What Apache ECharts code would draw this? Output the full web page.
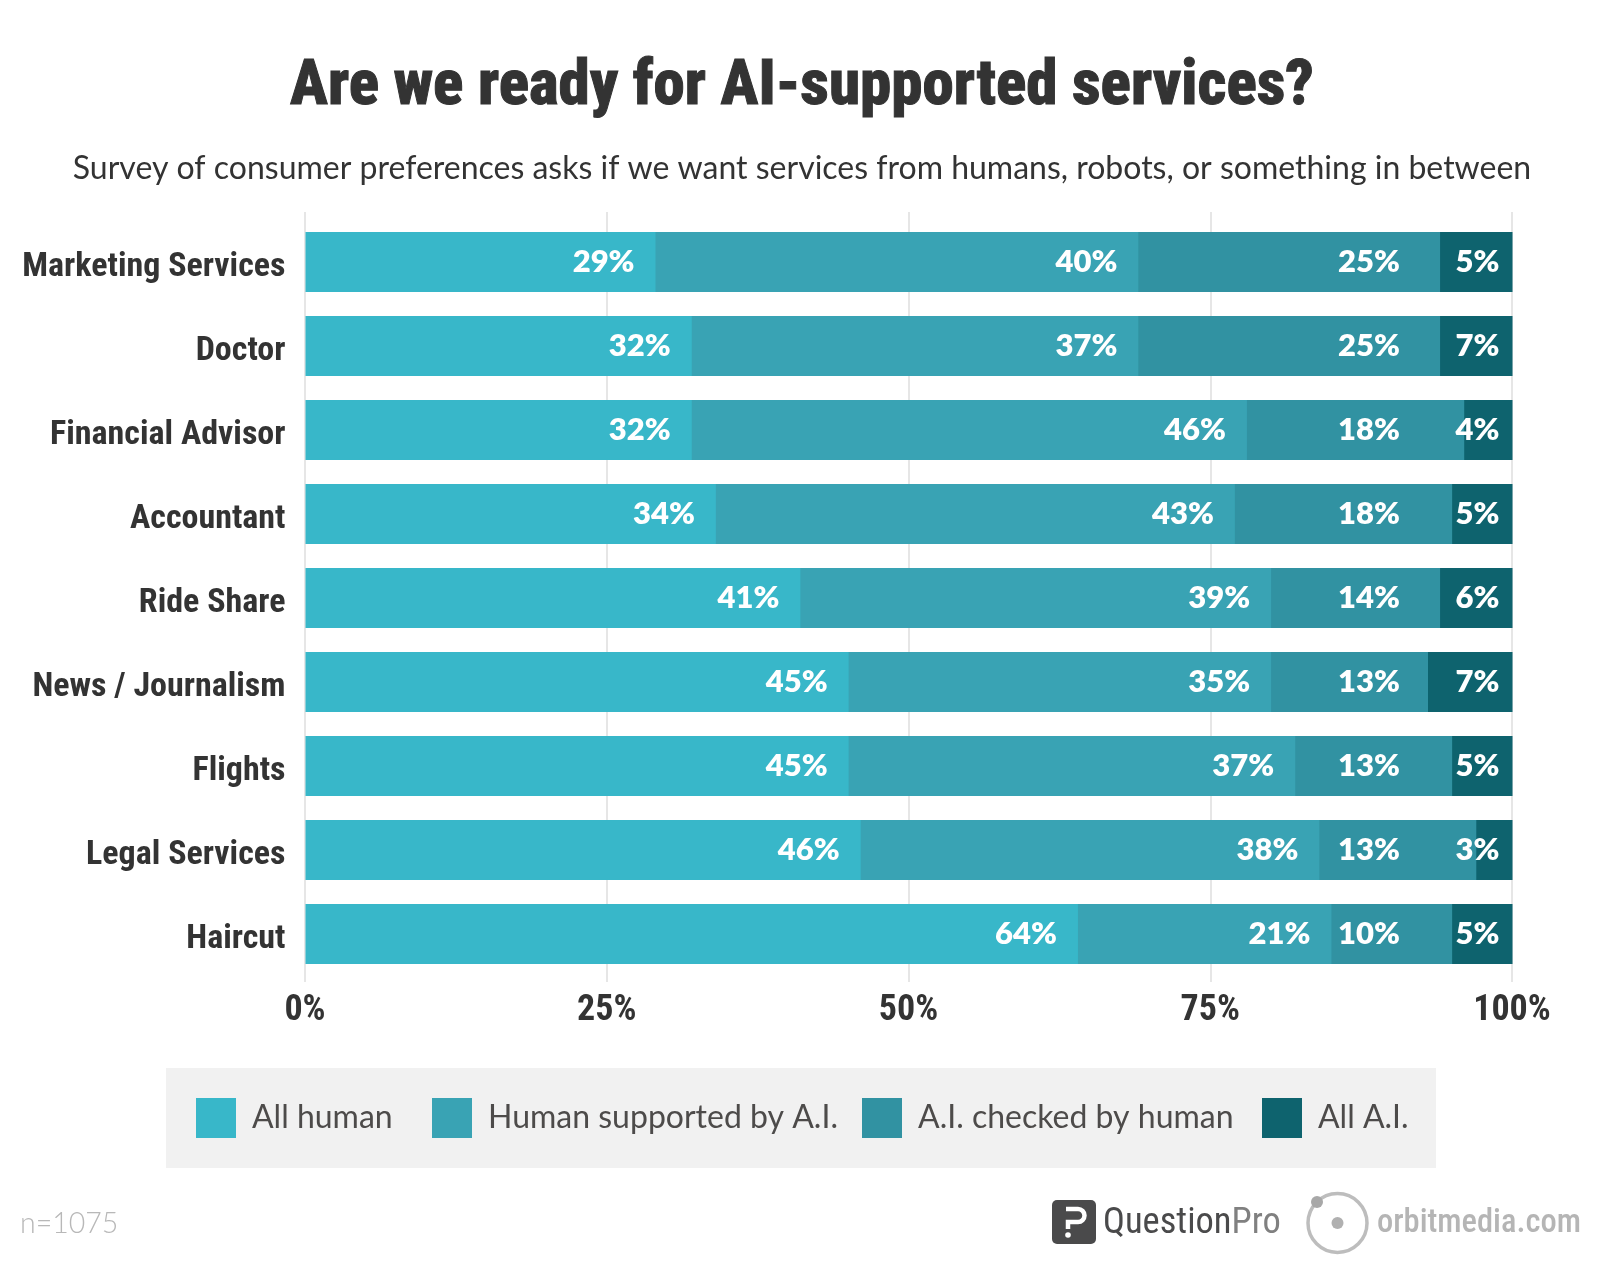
<!DOCTYPE html>
<html>
<head>
    <meta charset="utf-8">
    <title>Are we ready for AI-supported services?</title>
    <script src="https://cdn.jsdelivr.net/npm/echarts@6/dist/echarts.min.js"></script>
    <style>
        body { margin: 0; background: #fff; }
        #chart1 { width: 1600px; height: 1274px; }
    </style>
</head>
<body>
<div id="chart1"></div>
<script type="text/javascript">
    var categories = ['Marketing Services', 'Doctor', 'Financial Advisor', 'Accountant', 'Ride Share',
        'News / Journalism', 'Flights', 'Legal Services', 'Haircut'];
    var allHuman = [29, 32, 32, 34, 41, 45, 45, 46, 64];
    var humanSupported = [40, 37, 46, 43, 39, 35, 37, 38, 21];
    var aiChecked = [25, 25, 18, 18, 14, 13, 13, 13, 10];
    // the dark segment always runs out to 100%, so its printed number can differ from its length
    var allAI = [6, 6, 4, 5, 6, 7, 5, 3, 5];
    var allAILabels = [5, 7, 4, 5, 6, 7, 5, 3, 5];
    var xTicks = [0, 25, 50, 75, 100];

    var seriesNames = ['All human', 'Human supported by A.I.', 'A.I. checked by human', 'All A.I.'];
    var seriesColors = ['#38b7c9', '#39a3b4', '#3192a2', '#0e636e'];
    var legendLefts = [196, 432, 862, 1262];

    var bodyFont = 'Lato';
    var narrowFont = '"Roboto Condensed"';
    var gridLeft = 305.5, gridWidth = 1207;

    function barSeries(index, values, label, extra) {
        return Object.assign({
            name: seriesNames[index],
            type: 'bar',
            stack: 'total',
            barWidth: 60,
            data: values,
            // a 1px hard shadow runs under the next segment and closes the hairline seam
            itemStyle: {
                color: seriesColors[index],
                shadowColor: index < 3 ? seriesColors[index] : 'transparent',
                shadowBlur: 0,
                shadowOffsetX: index < 3 ? 1 : 0
            },
            label: Object.assign({
                show: true,
                color: '#fff',
                fontFamily: bodyFont,
                fontWeight: 800,
                fontSize: 31
            }, label)
        }, extra || {});
    }

    var legends = seriesNames.map(function (name, i) {
        return {
            data: [name],
            left: legendLefts[i],
            top: 1098,
            padding: 0,
            itemWidth: 40,
            itemHeight: 40,
            itemStyle: {borderWidth: 0},
            icon: 'rect',
            selectedMode: false,
            textStyle: {
                fontFamily: bodyFont,
                fontSize: 32,
                color: '#4d4b4a',
                padding: [0, 0, 0, 11]
            }
        };
    });

    var myChart1 = echarts.init(document.getElementById('chart1'));
    myChart1.setOption({
        animation: false,
        backgroundColor: '#fff',
        title: [
            {
                text: 'Are we ready for AI-supported services?',
                left: 802, top: 57, textAlign: 'center', padding: 0,
                textStyle: {
                    fontFamily: narrowFont, fontWeight: 800, fontSize: 63, color: '#333',
                    textBorderColor: '#333', textBorderWidth: 1
                }
            },
            {
                text: 'Survey of consumer preferences asks if we want services from humans, robots, or something in between',
                left: 802, top: 153, textAlign: 'center', padding: 0,
                textStyle: {fontFamily: bodyFont, fontWeight: 400, fontSize: 32, color: '#333'}
            },
            {
                text: 'n=1075',
                left: 20, top: 1209, padding: 0,
                textStyle: {fontFamily: bodyFont, fontWeight: 300, fontSize: 28.5, color: '#b8b8b8'}
            }
        ],
        legend: legends,
        // grid 0 holds the bars, grid 1 only the taller grid lines and the tick labels
        grid: [
            {left: gridLeft, width: gridWidth, top: 220, height: 756},
            {left: gridLeft - 0.5, width: gridWidth, top: 212, height: 770}
        ],
        xAxis: [
            {gridIndex: 0, type: 'value', min: 0, max: 100, show: false},
            {
                gridIndex: 1, type: 'value', min: 0, max: 100, interval: 25,
                axisLine: {show: false},
                axisTick: {show: false},
                splitLine: {show: true, lineStyle: {color: '#e6e6e6', width: 2}},
                axisLabel: {
                    margin: 11,
                    fontFamily: narrowFont,
                    fontWeight: 700,
                    fontSize: 36,
                    color: '#333',
                    customValues: xTicks,
                    formatter: '{value}%'
                }
            }
        ],
        yAxis: [
            {
                gridIndex: 0, type: 'category', inverse: true, data: categories,
                axisLine: {show: false},
                axisTick: {show: false},
                axisLabel: {
                    margin: 20,
                    // labels sit a little below the bar centres in the picture
                    verticalAlign: 'top',
                    lineHeight: 10,
                    fontFamily: narrowFont,
                    fontWeight: 700,
                    fontSize: 34,
                    color: '#333'
                }
            },
            {gridIndex: 1, type: 'value', show: false}
        ],
        series: [
            barSeries(0, allHuman, {position: 'insideRight', distance: 21, formatter: '{c}%'}),
            barSeries(1, humanSupported, {position: 'insideRight', distance: 21, formatter: '{c}%'}),
            barSeries(2, aiChecked, {position: 'insideRight', formatter: '{c}%'}, {
                // this column of numbers lines up at one x in the picture, not on the bar ends
                labelLayout: function () {
                    return {x: 1338, align: 'left', verticalAlign: 'middle'};
                }
            }),
            barSeries(3, allAI, {
                position: 'insideRight',
                distance: 13,
                formatter: function (p) {
                    return allAILabels[p.dataIndex] + '%';
                }
            })
        ],
        graphic: [
            {type: 'rect', z: -10, shape: {x: 166, y: 1068, width: 1270, height: 100}, style: {fill: '#f1f1f1'}},
            // QuestionPro mark
            {type: 'rect', shape: {x: 1052, y: 1200, width: 44, height: 44, r: 5}, style: {fill: '#4a4a4b'}},
            {
                type: 'polyline',
                shape: {points: [[1066, 1209], [1078, 1209]]},
                style: {fill: 'none', stroke: '#fff', lineWidth: 4.5}
            },
            {
                type: 'arc',
                shape: {cx: 1078, cy: 1215.5, r: 6.5, startAngle: -Math.PI / 2, endAngle: Math.PI / 2, clockwise: true},
                style: {fill: 'none', stroke: '#fff', lineWidth: 4.5}
            },
            {
                type: 'polyline',
                shape: {points: [[1078, 1222], [1068, 1222], [1068, 1229]]},
                style: {fill: 'none', stroke: '#fff', lineWidth: 4.5}
            },
            {type: 'circle', shape: {cx: 1068, cy: 1235, r: 2.8}, style: {fill: '#fff'}},
            {
                type: 'text', x: 1103, y: 1224,
                style: {
                    text: '{a|Question}{b|Pro}',
                    verticalAlign: 'middle',
                    rich: {
                        a: {fill: '#4a4a4b', fontFamily: narrowFont, fontWeight: 400, fontSize: 36.5},
                        b: {fill: '#808080', fontFamily: narrowFont, fontWeight: 400, fontSize: 36.5}
                    }
                }
            },
            // orbitmedia mark
            {type: 'circle', shape: {cx: 1337.5, cy: 1223, r: 29.5}, style: {fill: 'none', stroke: '#bdbdbd', lineWidth: 3.5}},
            {type: 'circle', shape: {cx: 1337.5, cy: 1223, r: 6}, style: {fill: '#b0b0b0'}},
            {type: 'circle', shape: {cx: 1317, cy: 1202, r: 6}, style: {fill: '#a8a8a8'}},
            {
                type: 'text', x: 1377, y: 1224,
                style: {text: 'orbitmedia.com', fill: '#b5b5b5', fontFamily: narrowFont, fontWeight: 500, fontSize: 32.5, verticalAlign: 'middle'}
            }
        ]
    });
</script>
</body>
</html>
